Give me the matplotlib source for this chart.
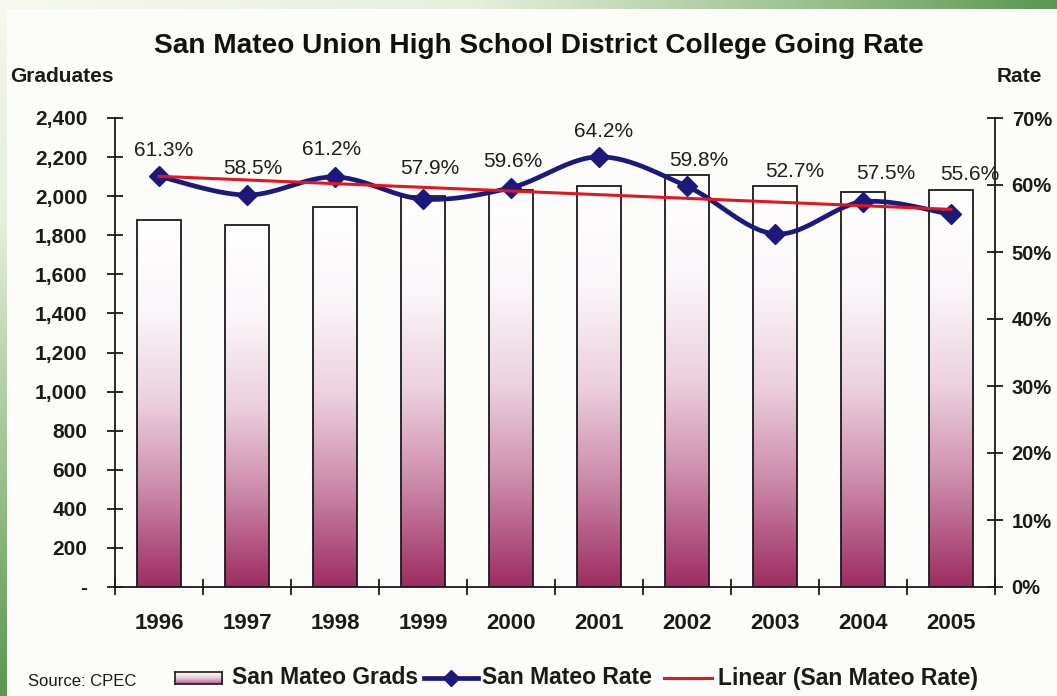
import numpy as np
import matplotlib
matplotlib.use("Agg")
import matplotlib.pyplot as plt
from matplotlib.colors import LinearSegmentedColormap
from matplotlib.ticker import FuncFormatter
from matplotlib.lines import Line2D

# ---------------- data ----------------
years = ["1996", "1997", "1998", "1999", "2000", "2001", "2002", "2003", "2004", "2005"]
grads = [1880, 1850, 1945, 2000, 2030, 2050, 2110, 2050, 2020, 2030]
rates = [61.3, 58.5, 61.2, 57.9, 59.6, 64.2, 59.8, 52.7, 57.5, 55.6]

# label placement (pixel offsets from each point) -- layout only
label_dx = [5, 6, -3, 7, 2, 5, 12, 20, 23, 19]
label_dy = [26, 27, 27, 31, 26, 25, 26, 62, 28, 40]

W, H = 1057, 696
plt.rcParams['font.family'] = ['Liberation Sans', 'DejaVu Sans']

fig = plt.figure(figsize=(W / 100, H / 100), dpi=100)
fig.patch.set_facecolor('#fcfcfa')

# ---------------- decorative frame ----------------
bg = fig.add_axes([0, 0, 1, 1], zorder=-10)
bg.set_xlim(0, W)
bg.set_ylim(H, 0)
bg.axis('off')
green = LinearSegmentedColormap.from_list('g', [(0, '#f7f9f0'), (0.45, '#e6efdc'), (0.75, '#9fc392'), (1, '#5a9850')])
bg.imshow(np.linspace(0, 1, 256)[None, :], extent=[0, W, 9, 0], cmap=green, aspect='auto')
bg.imshow(np.linspace(0, 1, 256)[:, None] ** 0.7, extent=[0, 7, H, 0], cmap=green, aspect='auto', vmin=0, vmax=1)

# ---------------- main axes ----------------
x0, x1, ytop, ybot = 115, 995, 118, 587
ax = fig.add_axes([x0 / W, 1 - ybot / H, (x1 - x0) / W, (ybot - ytop) / H])
ax.set_facecolor('none')
x = np.arange(len(years))

bar_cmap = LinearSegmentedColormap.from_list(
    'bar', [(0, '#ffffff'), (0.25, '#fbf6f9'), (0.5, '#eccfdd'), (0.72, '#cf8fae'), (1, '#9e2c62')])
grad = np.linspace(0, 1, 256)[:, None]
bars = ax.bar(x, grads, width=0.5, facecolor='none', edgecolor='#1a1a1a', linewidth=1.3, zorder=3)
for b in bars:
    ax.imshow(grad, extent=[b.get_x(), b.get_x() + b.get_width(), 0, b.get_height()],
              cmap=bar_cmap, aspect='auto', zorder=2, origin='upper')

ax.set_xlim(-0.5, len(years) - 0.5)
ax.set_ylim(0, 2400)
ax.set_yticks(np.arange(0, 2401, 200))
ax.yaxis.set_major_formatter(FuncFormatter(lambda v, p: '-' if v == 0 else f'{v:,.0f}'))
ax.set_xticks(x)
ax.set_xticklabels(years)
ax.set_xticks(np.arange(-0.5, len(years), 1), minor=True)
ax.tick_params(axis='x', which='major', length=0, pad=19, labelsize=16, colors='#1a1a1a')
ax.tick_params(axis='x', which='minor', direction='inout', length=12, width=1.3, color='#1a1a1a')
ax.tick_params(axis='y', direction='inout', length=12, width=1.3, pad=14, labelsize=15, colors='#1a1a1a')
for lab in ax.get_xticklabels() + ax.get_yticklabels():
    lab.set_fontweight('bold')
for s in ['top', 'right']:
    ax.spines[s].set_visible(False)
for s in ['left', 'bottom']:
    ax.spines[s].set_linewidth(1.3)
    ax.spines[s].set_color('#1a1a1a')

# ---------------- rate axis ----------------
ax2 = ax.twinx()
ax2.set_ylim(0, 70)
ax2.set_yticks(np.arange(0, 71, 10))
ax2.yaxis.set_major_formatter(FuncFormatter(lambda v, p: f'{v:.0f}%'))
ax2.tick_params(axis='y', direction='inout', length=12, width=1.3, pad=6, labelsize=14.5, colors='#1a1a1a')
for lab in ax2.get_yticklabels():
    lab.set_fontweight('bold')
for s in ['top', 'left', 'bottom']:
    ax2.spines[s].set_visible(False)
ax2.spines['right'].set_linewidth(1.3)
ax2.spines['right'].set_color('#1a1a1a')


def smooth(xs, ys, n=30):
    xs = np.asarray(xs, float)
    ys = np.asarray(ys, float)
    px = np.concatenate([[xs[0]], xs, [xs[-1]]])
    py = np.concatenate([[ys[0]], ys, [ys[-1]]])
    ox, oy = [], []
    for i in range(1, len(px) - 2):
        p0 = np.array([px[i], py[i]])
        p3 = np.array([px[i + 1], py[i + 1]])
        c1 = p0 + (np.array([px[i + 1], py[i + 1]]) - np.array([px[i - 1], py[i - 1]])) / 6
        c2 = p3 - (np.array([px[i + 2], py[i + 2]]) - np.array([px[i], py[i]])) / 6
        t = np.linspace(0, 1, n)[:, None]
        pts = ((1 - t) ** 3) * p0 + 3 * ((1 - t) ** 2) * t * c1 + 3 * (1 - t) * t ** 2 * c2 + t ** 3 * p3
        ox.extend(pts[:, 0])
        oy.extend(pts[:, 1])
    return np.array(ox), np.array(oy)


navy = '#1b1a7c'
sx, sy = smooth(x, rates)
ax2.plot(sx, sy, color=navy, lw=3.4, solid_capstyle='round', zorder=4)
ax2.plot(x, rates, linestyle='none', marker='D', markersize=10, color=navy, zorder=5)

coef = np.polyfit(x, rates, 1)
ax2.plot(x, np.polyval(coef, x), color='#e8141c', lw=2.2, zorder=6)

for xi, r, dx, dy in zip(x, rates, label_dx, label_dy):
    ax2.annotate(f'{r:.1f}%', (xi, r), xytext=(dx, dy), textcoords='offset pixels',
                 ha='center', va='center', fontsize=15, color='#1e1e1e', zorder=7)

# ---------------- titles / axis names ----------------
fig.text(539 / W, 1 - 46 / H, 'San Mateo Union High School District College Going Rate',
         ha='center', va='center', fontsize=20.2, fontweight='bold', color='#111111')
fig.text(10 / W, 1 - 76 / H, 'Graduates', ha='left', va='center', fontsize=15, fontweight='bold', color='#1a1a1a')
fig.text(997 / W, 1 - 76 / H, 'Rate', ha='left', va='center', fontsize=15, fontweight='bold', color='#1a1a1a')
fig.text(28 / W, 1 - 681 / H, 'Source: CPEC', ha='left', va='center', fontsize=12, color='#1a1a1a')

# ---------------- legend (manual) ----------------
ly = 678
lg = fig.add_axes([175 / W, 1 - 684 / H, 47 / W, 12 / H])
lg.imshow(np.linspace(0, 1, 64)[:, None], cmap=LinearSegmentedColormap.from_list(
    'lg', ['#ffffff', '#e7c9d7', '#b45d88']), aspect='auto', extent=[0, 1, 0, 1], origin='upper')
lg.set_xticks([])
lg.set_yticks([])
for s in lg.spines.values():
    s.set_linewidth(1.2)
    s.set_color('#1a1a1a')
fig.text(232 / W, 1 - ly / H, 'San Mateo Grads', ha='left', va='center', fontsize=16.5, fontweight='bold', color='#1a1a1a')
fig.add_artist(Line2D([424 / W, 478 / W], [1 - ly / H, 1 - ly / H], color=navy, lw=3.4))
fig.add_artist(Line2D([451 / W], [1 - ly / H], marker='D', markersize=8, color=navy))
fig.text(482 / W, 1 - ly / H, 'San Mateo Rate', ha='left', va='center', fontsize=16.5, fontweight='bold', color='#1a1a1a')
fig.add_artist(Line2D([664 / W, 712 / W], [1 - ly / H, 1 - ly / H], color='#e8141c', lw=2.2))
fig.text(718 / W, 1 - ly / H, 'Linear (San Mateo Rate)', ha='left', va='center', fontsize=16.5, fontweight='bold', color='#1a1a1a')

fig.savefig('out.png', dpi=100, facecolor=fig.get_facecolor())
